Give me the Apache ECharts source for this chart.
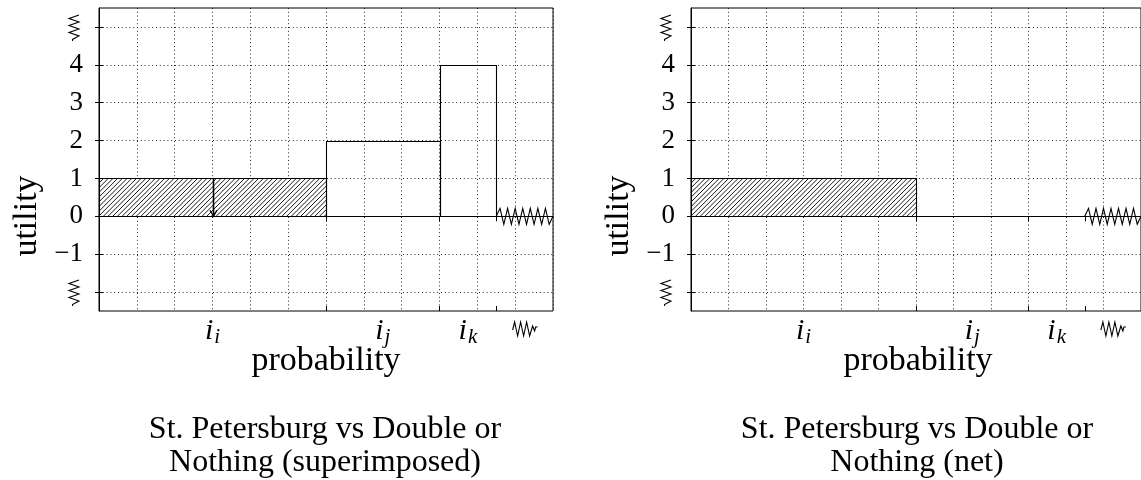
<!DOCTYPE html>
<html><head><meta charset="utf-8">
<script src="https://cdn.jsdelivr.net/npm/echarts@6/dist/echarts.min.js"></script>
<style>html,body{margin:0;padding:0;background:#fff}#c{width:1141px;height:480px}</style>
</head><body><div id="c"></div>
<script>
// ---------- data ----------
const xBounds = [0, 6, 9, 10.5, 12];          // probability interval edges (last = break)
const xSubs = ['i', 'j', 'k'];                 // tick labels i_i, i_j, i_k
const yTicks = [-2, -1, 0, 1, 2, 3, 4, 5];
const yBreaks = [-2, 5];                        // ticks shown as break glyphs
const superHatched = [1, 0, 0];                 // St. Petersburg (hatched)
const superOpen = [0, 2, 4];                    // Double or Nothing (open boxes)
const superArrow = [3, 1, 0];                   // x, from, to
const netHatched = [1, 0, 0];
const netOpen = [0, 0, 0];
const titles = ['St. Petersburg vs Double or\nNothing (superimposed)', 'St. Petersburg vs Double or\nNothing (net)'];

// ---------- layout ----------
const FONT = 'Liberation Serif';
const grids = [
  { left: 99, top: 8, width: 454, height: 303 },
  { left: 691, top: 8, width: 454, height: 303 }
];

function buildBars(h, o) {
  const out = [];
  for (let i = 0; i < h.length; i++) {
    if (h[i] > 0) out.push([xBounds[i], xBounds[i + 1], h[i], 1]);
    if (o[i] > 0 || h[i] === 0) out.push([xBounds[i], xBounds[i + 1], o[i], 0]);
  }
  return out;
}
const px = v => Math.round(v) + 0.5;

function barItem(params, api) {
  const x0 = api.value(0), x1 = api.value(1), h = api.value(2), hat = api.value(3);
  const a = api.coord([x0, h]), b = api.coord([x1, 0]);
  const L = px(a[0]), R = px(b[0]), T = px(a[1]), B = px(b[1]);
  const ch = [];
  if (hat) {
    ch.push({ type: 'rect', shape: { x: L, y: T, width: R - L, height: B - T }, style: { fill: '#fff' } });
    const step = 4.7;
    for (let k = Math.ceil((L + T) / step) * step; k < R + B; k += step) {
      const xa = Math.max(L, k - B), xb = Math.min(R, k - T);
      if (xb > xa) ch.push({ type: 'line', shape: { x1: xa, y1: k - xa, x2: xb, y2: k - xb }, style: { stroke: '#000', lineWidth: 0.9 } });
    }
  }
  if (T === B) ch.push({ type: 'line', shape: { x1: L, y1: B, x2: R, y2: B }, style: { stroke: '#000', lineWidth: 1 } });
  else ch.push({ type: 'rect', shape: { x: L, y: T, width: R - L, height: B - T }, style: { fill: null, stroke: '#000', lineWidth: 1.1 } });
  return { type: 'group', children: ch };
}
function arrowItem(params, api) {
  const a = api.coord([api.value(0), api.value(1)]), b = api.coord([api.value(0), api.value(2)]);
  const x = px(a[0]);
  return { type: 'group', children: [
    { type: 'line', shape: { x1: x, y1: a[1], x2: x, y2: b[1] }, style: { stroke: '#000', lineWidth: 1.6 } },
    { type: 'polyline', shape: { points: [[x - 3.5, b[1] - 6], [x, b[1]], [x + 3.5, b[1] - 6]] }, style: { stroke: '#000', lineWidth: 1.2, fill: null } }
  ] };
}
function zigItem(params, api) {
  const a = api.coord([api.value(0), api.value(2)]), b = api.coord([api.value(1), api.value(2)]);
  const n = 14, amp = 8, w = (b[0] - a[0]) / (n + 1);
  const pts = [[a[0], a[1]]];
  for (let i = 0; i < n; i++) pts.push([a[0] + w * (i + 1), a[1] + (i % 2 === 0 ? -amp : amp)]);
  pts.push([b[0], a[1]]);
  return { type: 'polyline', shape: { points: pts }, style: { stroke: '#000', lineWidth: 1.1, fill: null } };
}
// break glyphs as tick labels
function glyphItem(params, api) {
  const kind = api.value(2);
  const c = api.coord([api.value(0), api.value(1)]);
  let pts = [];
  if (kind === 0) { // vertical glyph left of y-axis
    const cx = c[0] - 25, cy = c[1];
    const d = [[5, -12], [-5, -8.5], [5, -5], [-5, -1.5], [5, 2], [-5, 5.5], [5, 9], [-1.5, 12.5], [-1.5, 14]];
    pts = d.map(p => [cx + p[0], cy + p[1]]);
  } else { // horizontal glyph below x-axis
    const cx = c[0], cy = c[1] + 18;
    const d = [[-12, 1], [-10, -7], [-7, 7], [-4, -7], [-1, 7], [2, -7], [5, 7], [8, -3], [10, 2], [11, -2], [13, -2]];
    pts = d.map(p => [cx + p[0], cy + p[1]]);
  }
  return { type: 'polyline', shape: { points: pts }, style: { stroke: '#000', lineWidth: 1.1, fill: null } };
}

const option = { animation: false, backgroundColor: '#fff', grid: [], xAxis: [], yAxis: [], series: [], graphic: [] };
const labelVals = [0, 1, 2].map(i => (xBounds[i] + xBounds[i + 1]) / 2);
const breakMid = (xBounds[3] + xBounds[4]) / 2;

grids.forEach((g, gi) => {
  option.grid.push(Object.assign({ show: true, borderColor: '#000', borderWidth: 1, backgroundColor: 'transparent' }, g));
  option.xAxis.push({ gridIndex: gi, type: 'value', min: 0, max: 12, interval: 1,
    axisLine: { show: true, lineStyle: { color: '#000', width: 1 } }, axisTick: { show: false }, axisLabel: { show: false },
    splitLine: { show: true, lineStyle: { color: '#111', width: 0.9, type: [1, 2.8] } } });
  option.xAxis.push({ gridIndex: gi, type: 'value', min: 0, max: 12, position: 'bottom',
    axisLine: { show: false }, splitLine: { show: false },
    axisTick: { show: true, length: 5, customValues: xBounds.slice(1, 4), lineStyle: { color: '#000', width: 1 } },
    axisLabel: { show: true, customValues: labelVals, margin: 5,
      formatter: v => { const i = labelVals.indexOf(v); return i < 0 ? '' : '{m|i}{s|' + xSubs[i] + '}'; },
      rich: { m: { fontFamily: FONT, fontStyle: 'italic', fontSize: 30, color: '#000', lineHeight: 32, verticalAlign: 'top' },
              s: { fontFamily: FONT, fontStyle: 'italic', fontSize: 21, color: '#000', lineHeight: 22, padding: [11, 0, 0, 1], verticalAlign: 'top' } } } });
  option.xAxis.push({ gridIndex: gi, type: 'value', min: 0, max: 12, position: 'bottom',
    axisLine: { show: false }, splitLine: { show: false }, axisLabel: { show: false },
    axisTick: { show: true, inside: true, length: 5, customValues: xBounds.slice(1, 4), lineStyle: { color: '#000', width: 1 } } });
  option.yAxis.push({ gridIndex: gi, type: 'value', min: -2.5, max: 5.5, position: 'left',
    axisLine: { show: true, lineStyle: { color: '#000', width: 1 } },
    axisTick: { show: true, length: 4, customValues: yTicks, lineStyle: { color: '#000' } },
    axisLabel: { show: true, customValues: yTicks, margin: 16, fontFamily: FONT, fontSize: 27, color: '#000',
      formatter: v => yBreaks.indexOf(v) >= 0 ? '' : (v < 0 ? '\u2212' + Math.abs(v) : String(v)) },
    splitLine: { show: true, lineStyle: { color: '#111', width: 0.9, type: [1, 2.8] } } });
  option.yAxis.push({ gridIndex: gi, type: 'value', min: -2.5, max: 5.5, position: 'left',
    axisLine: { show: false }, splitLine: { show: false }, axisLabel: { show: false },
    axisTick: { show: true, inside: true, length: 4, customValues: yTicks, lineStyle: { color: '#000' } } });

  const xi = gi * 3, yi = gi * 2;
  const bars = gi === 0 ? buildBars(superHatched, superOpen) : buildBars(netHatched, netOpen);
  option.series.push({ type: 'custom', xAxisIndex: xi, yAxisIndex: yi, renderItem: barItem, data: bars, z: 3, clip: false });
  option.series.push({ type: 'custom', xAxisIndex: xi, yAxisIndex: yi, renderItem: zigItem, data: [[xBounds[3], xBounds[4], 0]], z: 3, clip: true });
  if (gi === 0) option.series.push({ type: 'custom', xAxisIndex: xi, yAxisIndex: yi, renderItem: arrowItem, data: [superArrow], z: 4 });
  option.series.push({ type: 'custom', xAxisIndex: xi, yAxisIndex: yi, renderItem: glyphItem, clip: false, z: 4,
    data: [[0, yBreaks[1], 0], [0, yBreaks[0], 0], [breakMid, -2.5, 1]] });

  const cx = g.left + g.width / 2;
  option.graphic.push({ type: 'text', x: g.left - 72, y: 216, rotation: Math.PI / 2,
    style: { text: 'utility', font: '34px "' + FONT + '"', fill: '#000', textAlign: 'center', textVerticalAlign: 'middle', align: 'center', verticalAlign: 'middle' } });
  option.graphic.push({ type: 'text', x: cx, y: 361,
    style: { text: 'probability', font: '34px "' + FONT + '"', fill: '#000', textAlign: 'center', textVerticalAlign: 'middle', align: 'center', verticalAlign: 'middle' } });
  option.graphic.push({ type: 'text', x: cx - 1, y: 446,
    style: { text: titles[gi], font: '32px "' + FONT + '"', lineHeight: 33, fill: '#000', textAlign: 'center', textVerticalAlign: 'middle', align: 'center', verticalAlign: 'middle' } });
});

const chart = echarts.init(document.getElementById('c'), null, { renderer: 'canvas' });
chart.setOption(option);
</script></body></html>
